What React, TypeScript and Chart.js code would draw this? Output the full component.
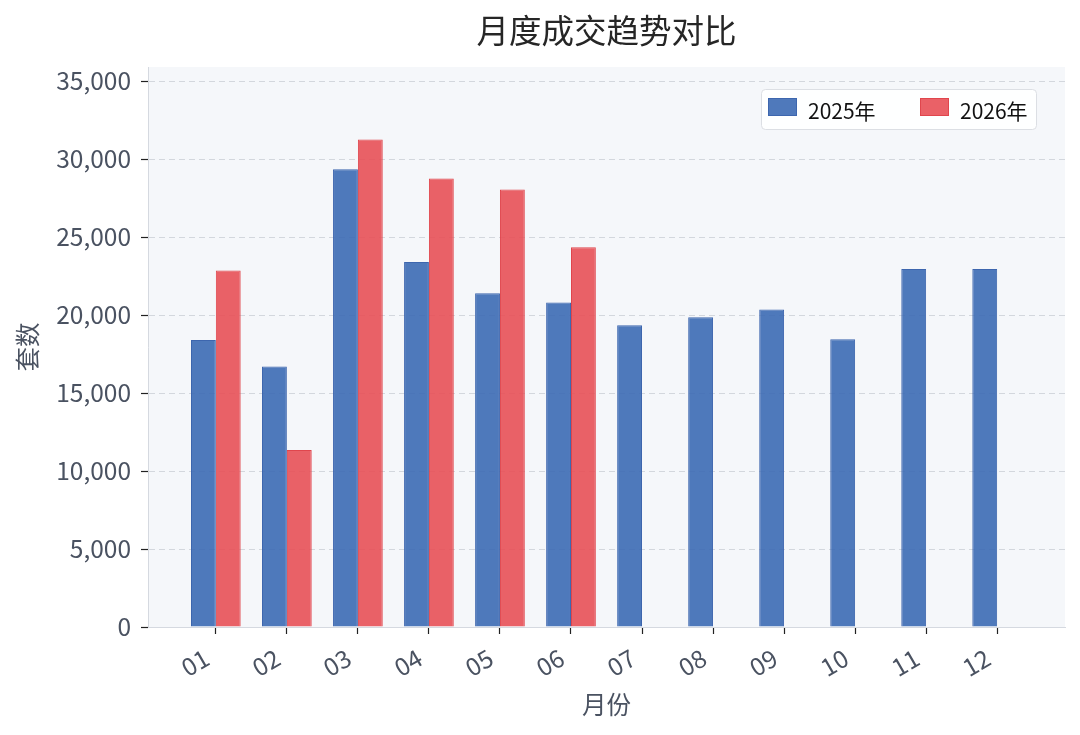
import { useEffect, useRef } from 'react';
import { Chart, registerables } from 'chart.js';
Chart.register(...registerables);

const months = ['01', '02', '03', '04', '05', '06', '07', '08', '09', '10', '11', '12'];
const sales2025 = [18400, 16700, 29350, 23400, 21400, 20800, 19350, 19850, 20350, 18450, 22950, 22950];
const sales2026 = [22850, 11350, 31250, 28750, 28050, 24350];
const seriesNames = ['2025年', '2026年'];
const yTicks = [0, 5000, 10000, 15000, 20000, 25000, 30000, 35000];

const FONT = '"Noto Sans CJK SC", "Noto Sans", sans-serif';
const BLUE = 'rgba(60,106,180,0.9)';
const BLUE_EDGE = '#3d66ae';
const RED = 'rgba(232,80,86,0.9)';
const RED_EDGE = '#e0464d';

const decor = {
  id: 'decor',
  beforeDraw(chart: Chart) {
    const { ctx, chartArea: a } = chart;
    ctx.save();
    ctx.fillStyle = '#f5f7fa';
    ctx.fillRect(a.left, a.top, a.right - a.left, a.bottom - a.top);
    ctx.restore();
  },
  afterDraw(chart: Chart) {
    const { ctx, chartArea: a } = chart;
    ctx.save();
    // title
    ctx.fillStyle = '#262626';
    ctx.font = `400 32.5px ${FONT}`;
    ctx.textAlign = 'center';
    ctx.textBaseline = 'middle';
    ctx.fillText('月度成交趋势对比', (a.left + a.right) / 2, 31);

    // legend
    const lx = 761, ly = 89, lw = 275, lh = 40;
    ctx.beginPath();
    ctx.roundRect(lx + 0.5, ly + 0.5, lw, lh, 4);
    ctx.fillStyle = 'rgba(255,255,255,0.9)';
    ctx.fill();
    ctx.strokeStyle = '#dcdfe4';
    ctx.lineWidth = 1;
    ctx.stroke();
    const items = [
      { x: 768, fill: BLUE, edge: BLUE_EDGE, text: seriesNames[0] },
      { x: 920, fill: RED, edge: RED_EDGE, text: seriesNames[1] },
    ];
    ctx.font = `21px ${FONT}`;
    ctx.textAlign = 'left';
    items.forEach(it => {
      ctx.fillStyle = it.fill;
      ctx.fillRect(it.x, 98, 29, 18);
      ctx.strokeStyle = it.edge;
      ctx.strokeRect(it.x + 0.5, 98.5, 28, 17);
      ctx.fillStyle = '#111';
      ctx.fillText(it.text, it.x + 40, 111);
    });
    ctx.restore();
  },
};

export default function App() {
  const canvasRef = useRef<HTMLCanvasElement>(null);
  const chartRef = useRef<Chart | null>(null);

  useEffect(() => {
    document.body.style.margin = '0';
    if (!canvasRef.current) return;
    if (chartRef.current) chartRef.current.destroy();

    chartRef.current = new Chart(canvasRef.current, {
      type: 'bar',
      data: {
        datasets: [
          {
            label: seriesNames[0],
            data: sales2025.map((v, i) => ({ x: i, y: v })),
            backgroundColor: BLUE,
            borderColor: BLUE_EDGE,
            borderWidth: 1,
            categoryPercentage: 0.7,
            barPercentage: 1,
          },
          {
            label: seriesNames[1],
            data: sales2026.map((v, i) => ({ x: i, y: v })),
            backgroundColor: RED,
            borderColor: RED_EDGE,
            borderWidth: 1,
            categoryPercentage: 0.7,
            barPercentage: 1,
          },
        ],
      },
      options: {
        responsive: true,
        maintainAspectRatio: false,
        animation: false,
        layout: { padding: { top: 67, right: 15, left: 0, bottom: 0 } },
        plugins: {
          legend: { display: false },
          title: { display: false },
          tooltip: { enabled: false },
        },
        scales: {
          x: {
            type: 'linear',
            offset: false,
            min: -0.955,
            max: 11.955,
            afterBuildTicks: (axis: any) => { axis.ticks = months.map((_, i) => ({ value: i })); },
            afterFit: (scale: any) => { scale.height = 108; },
            ticks: {
              autoSkip: false,
              maxRotation: 30,
              minRotation: 30,
              padding: 9,
              labelOffset: -9,
              color: '#4a5261',
              font: { size: 24.5, family: FONT },
              callback: (v: any) => months[v] ?? '',
            },
            grid: { offset: false, drawOnChartArea: false, tickLength: 7, tickColor: '#222', tickWidth: 1.2 },
            border: { color: '#d5d9e0', width: 1 },
            title: {
              display: true,
              text: '月份',
              color: '#4a5261',
              font: { size: 24.5, family: FONT },
              padding: { top: 0, bottom: 15.3 },
            },
          },
          y: {
            min: 0,
            max: 35900,
            afterBuildTicks: (axis: any) => { axis.ticks = yTicks.map(v => ({ value: v })); },
            afterFit: (scale: any) => { scale.width = 148; },
            ticks: {
              padding: 10,
              color: '#4a5261',
              font: { size: 24.5, family: FONT },
              callback: (v: any) => Number(v).toLocaleString('en-US'),
            },
            grid: { color: '#d3d7dd', tickLength: 7, tickColor: '#222', tickWidth: 1.2, tickBorderDash: [] },
            border: { color: '#d5d9e0', width: 1, dash: [6, 4] },
            title: {
              display: true,
              text: '套数',
              color: '#4a5261',
              font: { size: 24.5, family: FONT },
              padding: { top: 13.3, bottom: 0 },
            },
          },
        },
      },
      plugins: [decor],
    });

    return () => { chartRef.current?.destroy(); };
  }, []);

  return (
    <div style={{ width: 1080, height: 735, position: 'relative', background: '#fff' }}>
      <canvas ref={canvasRef} role="img" aria-label="月度成交趋势对比" />
    </div>
  );
}
